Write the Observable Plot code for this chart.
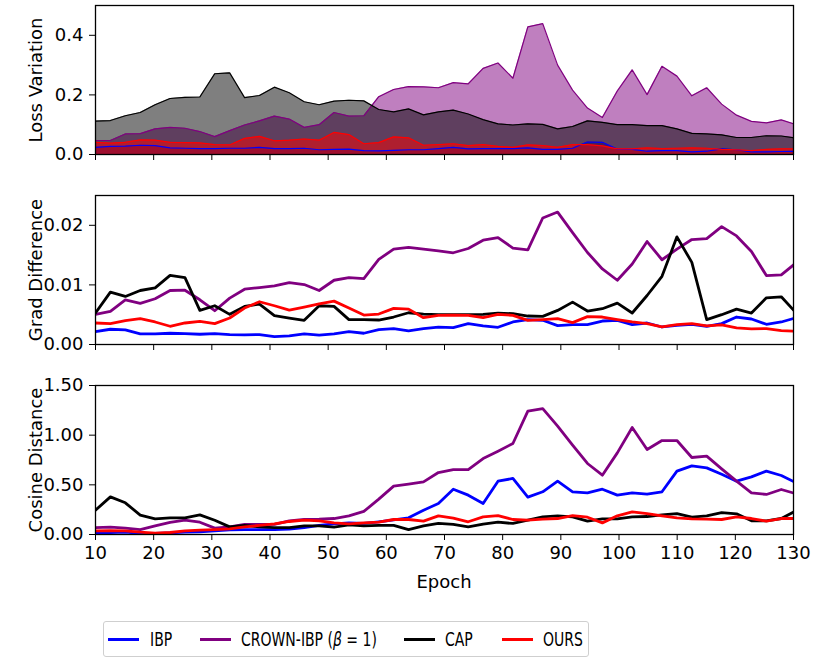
<!DOCTYPE html>
<html>
<head>
<meta charset="utf-8">
<script src="https://cdn.jsdelivr.net/npm/d3@7"></script>
<script src="https://cdn.jsdelivr.net/npm/@observablehq/plot@0.6"></script>
<style>
  body { margin: 0; background: #fff; font-family: "DejaVu Sans", sans-serif; }
  #wrap { position: relative; width: 813px; height: 658px; overflow: hidden; }
  .panel { position: absolute; left: 0; }
  .ylab { position: absolute; font-size: 18px; white-space: nowrap; color: #000;
          transform: translate(-50%, -50%) rotate(-90deg); }
  .xlab { position: absolute; font-size: 18px; white-space: nowrap; color: #000;
          transform: translate(-50%, -50%); }
  #legend { position: absolute; left: 103px; top: 621px; width: 486px; height: 36px;
            border: 1px solid #cfcfcf; border-radius: 3px; box-sizing: border-box; }
  .sw { position: absolute; top: 16px; height: 3px; width: 31px; }
  .lt { position: absolute; top: 17px; font-size: 20px; white-space: nowrap; line-height: 1;
        transform-origin: 0 50%; transform: translateY(-50%) scaleX(0.7); }
</style>
</head>
<body>
<div id="wrap"></div>
<script>
// ---------- data ----------
const epochs = [10.00, 12.56, 15.13, 17.69, 20.25, 22.82, 25.38, 27.94, 30.50, 33.07,
  35.63, 38.19, 40.76, 43.32, 45.88, 48.45, 51.01, 53.57, 56.13, 58.70,
  61.26, 63.82, 66.39, 68.95, 71.51, 74.08, 76.64, 79.20, 81.76, 84.33,
  86.89, 89.45, 92.02, 94.58, 97.14, 99.71, 102.27, 104.83, 107.39, 109.96,
  112.52, 115.08, 117.65, 120.21, 122.77, 125.34, 127.90, 130.46];

const xTicks = [10, 20, 30, 40, 50, 60, 70, 80, 90, 100, 110, 120, 130];

const seriesNames = ["IBP", "CROWN-IBP (\u03B2 = 1)", "CAP", "OURS"];
const seriesColors = ["#0000ff", "#800080", "#000000", "#ff0000"];

// Loss Variation
const lossIBP = [0.024, 0.027, 0.028, 0.031, 0.030, 0.022, 0.021, 0.020, 0.020, 0.021,
  0.021, 0.024, 0.020, 0.020, 0.021, 0.016, 0.017, 0.018, 0.013, 0.012,
  0.014, 0.016, 0.016, 0.020, 0.024, 0.019, 0.020, 0.020, 0.020, 0.022,
  0.017, 0.017, 0.021, 0.042, 0.041, 0.018, 0.017, 0.011, 0.013, 0.013,
  0.009, 0.011, 0.019, 0.016, 0.009, 0.009, 0.010, 0.011];
const lossCROWN = [0.047, 0.047, 0.069, 0.070, 0.086, 0.091, 0.088, 0.077, 0.060, 0.080,
  0.099, 0.113, 0.129, 0.119, 0.091, 0.100, 0.141, 0.129, 0.130, 0.194,
  0.218, 0.228, 0.227, 0.224, 0.241, 0.237, 0.289, 0.307, 0.256, 0.428,
  0.439, 0.300, 0.216, 0.156, 0.124, 0.213, 0.284, 0.201, 0.296, 0.263,
  0.197, 0.224, 0.169, 0.132, 0.111, 0.106, 0.116, 0.100];
const lossCAP = [0.112, 0.114, 0.130, 0.141, 0.167, 0.188, 0.192, 0.193, 0.271, 0.274,
  0.191, 0.198, 0.226, 0.207, 0.177, 0.167, 0.179, 0.182, 0.180, 0.151,
  0.143, 0.153, 0.133, 0.143, 0.149, 0.136, 0.117, 0.103, 0.099, 0.103,
  0.101, 0.086, 0.094, 0.113, 0.108, 0.100, 0.100, 0.097, 0.097, 0.086,
  0.071, 0.069, 0.066, 0.057, 0.057, 0.063, 0.062, 0.055];
const lossOURS = [0.041, 0.038, 0.041, 0.049, 0.048, 0.041, 0.040, 0.039, 0.033, 0.032,
  0.054, 0.061, 0.046, 0.048, 0.052, 0.048, 0.074, 0.067, 0.036, 0.040,
  0.059, 0.056, 0.031, 0.033, 0.036, 0.030, 0.033, 0.027, 0.024, 0.032,
  0.030, 0.024, 0.033, 0.033, 0.029, 0.019, 0.019, 0.022, 0.020, 0.021,
  0.022, 0.021, 0.017, 0.016, 0.013, 0.017, 0.019, 0.019];

// Grad Difference
const gradIBP = [0.00217, 0.00256, 0.00244, 0.00178, 0.00178, 0.00189, 0.00183, 0.00172, 0.00183, 0.00167,
  0.00161, 0.00167, 0.00133, 0.00144, 0.00178, 0.00156, 0.00178, 0.00217, 0.00189, 0.00250,
  0.00267, 0.00228, 0.00267, 0.00290, 0.00283, 0.00350, 0.00311, 0.00289, 0.00378, 0.00417,
  0.00406, 0.00317, 0.00333, 0.00333, 0.00394, 0.00406, 0.00333, 0.00361, 0.00294, 0.00322,
  0.00339, 0.00306, 0.00350, 0.00461, 0.00428, 0.00339, 0.00378, 0.00450];
const gradCROWN = [0.00506, 0.00556, 0.00750, 0.00689, 0.00767, 0.00906, 0.00911, 0.00750, 0.00567, 0.00778,
  0.00928, 0.00956, 0.00983, 0.01039, 0.01006, 0.00906, 0.01078, 0.01122, 0.01106, 0.01428,
  0.01600, 0.01628, 0.01600, 0.01570, 0.01539, 0.01611, 0.01750, 0.01794, 0.01617, 0.01589,
  0.02122, 0.02222, 0.01878, 0.01544, 0.01267, 0.01078, 0.01350, 0.01728, 0.01422, 0.01600,
  0.01761, 0.01778, 0.01978, 0.01822, 0.01561, 0.01156, 0.01167, 0.01370];
const gradCAP = [0.00528, 0.00878, 0.00806, 0.00906, 0.00950, 0.01161, 0.01122, 0.00572, 0.00650, 0.00506,
  0.00639, 0.00678, 0.00483, 0.00444, 0.00406, 0.00650, 0.00639, 0.00417, 0.00417, 0.00411,
  0.00461, 0.00533, 0.00511, 0.00500, 0.00500, 0.00500, 0.00506, 0.00528, 0.00517, 0.00478,
  0.00472, 0.00572, 0.00711, 0.00561, 0.00600, 0.00694, 0.00528, 0.00822, 0.01144, 0.01806,
  0.01378, 0.00417, 0.00500, 0.00594, 0.00528, 0.00783, 0.00800, 0.00530];
const gradOURS = [0.00361, 0.00350, 0.00400, 0.00433, 0.00378, 0.00306, 0.00361, 0.00389, 0.00350, 0.00444,
  0.00611, 0.00717, 0.00650, 0.00578, 0.00628, 0.00683, 0.00728, 0.00611, 0.00494, 0.00511,
  0.00606, 0.00594, 0.00450, 0.00490, 0.00494, 0.00489, 0.00450, 0.00506, 0.00489, 0.00406,
  0.00417, 0.00433, 0.00367, 0.00467, 0.00461, 0.00417, 0.00378, 0.00350, 0.00294, 0.00333,
  0.00350, 0.00311, 0.00328, 0.00278, 0.00261, 0.00267, 0.00233, 0.00220];

// Cosine Distance
const cosIBP = [0.017, 0.020, 0.023, 0.013, 0.010, 0.017, 0.023, 0.027, 0.037, 0.047,
  0.050, 0.050, 0.050, 0.054, 0.070, 0.091, 0.107, 0.117, 0.111, 0.128,
  0.148, 0.168, 0.245, 0.312, 0.456, 0.396, 0.312, 0.537, 0.564, 0.376,
  0.430, 0.537, 0.430, 0.419, 0.456, 0.396, 0.419, 0.406, 0.430, 0.638,
  0.691, 0.671, 0.607, 0.537, 0.580, 0.638, 0.594, 0.520];
const cosCROWN = [0.070, 0.074, 0.064, 0.050, 0.087, 0.121, 0.144, 0.124, 0.064, 0.077,
  0.101, 0.101, 0.101, 0.138, 0.151, 0.154, 0.161, 0.188, 0.232, 0.356,
  0.487, 0.507, 0.530, 0.624, 0.654, 0.654, 0.765, 0.839, 0.916, 1.242,
  1.268, 1.091, 0.899, 0.715, 0.597, 0.822, 1.077, 0.856, 0.946, 0.946,
  0.775, 0.789, 0.661, 0.537, 0.419, 0.403, 0.453, 0.410];
const cosCAP = [0.245, 0.379, 0.319, 0.195, 0.158, 0.168, 0.168, 0.198, 0.144, 0.077,
  0.091, 0.077, 0.070, 0.070, 0.087, 0.087, 0.074, 0.097, 0.087, 0.091,
  0.091, 0.050, 0.087, 0.111, 0.101, 0.077, 0.104, 0.124, 0.111, 0.144,
  0.178, 0.188, 0.178, 0.134, 0.158, 0.158, 0.178, 0.181, 0.198, 0.211,
  0.174, 0.188, 0.221, 0.208, 0.138, 0.138, 0.161, 0.240];
const cosOURS = [0.037, 0.040, 0.037, 0.023, 0.013, 0.020, 0.037, 0.044, 0.050, 0.057,
  0.077, 0.091, 0.107, 0.131, 0.144, 0.138, 0.117, 0.107, 0.117, 0.124,
  0.151, 0.151, 0.134, 0.188, 0.165, 0.128, 0.178, 0.191, 0.151, 0.144,
  0.154, 0.161, 0.191, 0.174, 0.117, 0.188, 0.228, 0.211, 0.188, 0.168,
  0.158, 0.154, 0.151, 0.178, 0.161, 0.134, 0.161, 0.161];

const lossTicks = [0, 0.2, 0.4];
const gradTicks = [0, 0.01, 0.02];
const cosTicks = [0, 0.5, 1.0, 1.5];

// ---------- drawing ----------
const wrap = document.getElementById("wrap");
const FONT = "DejaVu Sans";

function makePanel({series, yDomain, yTicks, yFmt, top, height, mt, mb, filled, xLabels}) {
  const marks = [];
  if (filled) {
    series.forEach((arr, k) => marks.push(Plot.areaY(arr, {
      x: epochs, y: arr, fill: seriesColors[k], fillOpacity: 0.5, clip: true
    })));
    series.forEach((arr, k) => marks.push(Plot.line(arr, {
      x: epochs, y: arr, stroke: seriesColors[k], strokeWidth: 1.2, clip: true
    })));
  } else {
    series.forEach((arr, k) => marks.push(Plot.line(arr, {
      x: epochs, y: arr, stroke: seriesColors[k], strokeWidth: 2.8, clip: true,
      strokeLinejoin: "round"
    })));
  }
  marks.push(Plot.axisY({ticks: yTicks, tickFormat: yFmt, tickSize: 6, tickPadding: 6,
    label: null, fontSize: 18, stroke: "black"}));
  marks.push(Plot.axisX({ticks: xTicks, tickSize: 6, tickPadding: 6, label: null,
    fontSize: 18, stroke: "black",
    tickFormat: xLabels ? (d => String(d)) : (() => "")}));
  marks.push(Plot.frame({stroke: "black", strokeWidth: 1.3}));

  const svg = Plot.plot({
    width: 813, height,
    marginLeft: 95, marginRight: 20, marginTop: mt, marginBottom: mb,
    x: {domain: [10, 130], axis: null},
    y: {domain: yDomain, axis: null},
    style: {fontFamily: FONT, color: "black", background: "transparent", overflow: "visible"},
    marks
  });
  svg.classList.add("panel");
  svg.style.top = top + "px";
  wrap.appendChild(svg);
}

makePanel({series: [lossIBP, lossCROWN, lossCAP, lossOURS], yDomain: [0, 0.5],
  yTicks: lossTicks, yFmt: d3.format(".1f"), top: 0, height: 175, mt: 5, mb: 21,
  filled: true, xLabels: false});
makePanel({series: [gradIBP, gradCROWN, gradCAP, gradOURS], yDomain: [0, 0.025],
  yTicks: gradTicks, yFmt: d3.format(".2f"), top: 175, height: 190, mt: 20, mb: 21,
  filled: false, xLabels: false});
makePanel({series: [cosIBP, cosCROWN, cosCAP, cosOURS], yDomain: [0, 1.5],
  yTicks: cosTicks, yFmt: d3.format(".2f"), top: 365, height: 200, mt: 20, mb: 31,
  filled: false, xLabels: true});

function addLabel(cls, text, x, y) {
  const d = document.createElement("div");
  d.className = cls;
  d.textContent = text;
  d.style.left = x + "px";
  d.style.top = y + "px";
  wrap.appendChild(d);
}
addLabel("ylab", "Loss Variation", 35, 80);
addLabel("ylab", "Grad Difference", 35, 270);
addLabel("ylab", "Cosine Distance", 35, 460);
addLabel("xlab", "Epoch", 444, 581);

// legend
const legend = document.createElement("div");
legend.id = "legend";
const swatchX = [4, 96, 300, 398];
const textX = [46, 137, 341, 439];
seriesNames.forEach((name, k) => {
  const sw = document.createElement("div");
  sw.className = "sw";
  sw.style.left = swatchX[k] + "px";
  sw.style.background = seriesColors[k];
  legend.appendChild(sw);
  const t = document.createElement("div");
  t.className = "lt";
  t.style.left = textX[k] + "px";
  // render the Greek beta in italics as in the math-text legend entry
  const parts = name.split("\u03B2");
  parts.forEach((p, j) => {
    if (j > 0) {
      const b = document.createElement("i");
      b.textContent = "\u03B2";
      t.appendChild(b);
    }
    t.appendChild(document.createTextNode(p));
  });
  legend.appendChild(t);
});
wrap.appendChild(legend);
</script>
</body>
</html>
